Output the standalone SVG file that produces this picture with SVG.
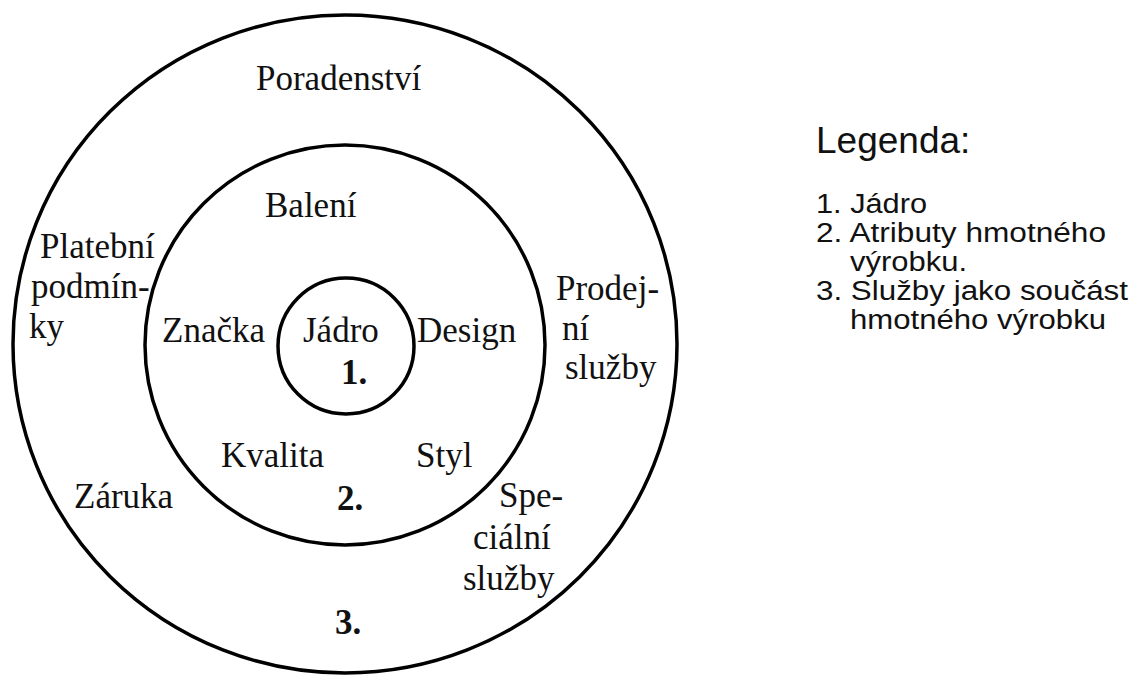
<svg xmlns="http://www.w3.org/2000/svg" width="1140" height="675" viewBox="0 0 1140 675">
<style>
.ring{fill:none;stroke:#000;stroke-width:3.5}
.t{font-family:"Liberation Sans",sans-serif;font-family:"Liberation Serif","Times New Roman",serif;font-size:35px;fill:#111}
.b{font-family:"Liberation Serif","Times New Roman",serif;font-size:35px;font-weight:bold;fill:#111}
.lh{font-family:"Liberation Sans",Arial,sans-serif;font-size:37px;fill:#111}
.li{font-family:"Liberation Sans",Arial,sans-serif;font-size:27px;fill:#111}
</style>
<rect width="1140" height="675" fill="#fff"/>
<g id="ring3">
<ellipse class="ring" cx="345" cy="344" rx="332" ry="329"/>
<text class="t" x="256" y="90">Poradenství</text>
<text class="t" x="40" y="258">Platební</text>
<text class="t" x="31" y="298">podmín-</text>
<text class="t" x="29" y="338">ky</text>
<text class="t" x="556" y="300">Prodej-</text>
<text class="t" x="562" y="340">ní</text>
<text class="t" x="565" y="379">služby</text>
<text class="t" x="74" y="508">Záruka</text>
<text class="t" x="499" y="507">Spe-</text>
<text class="t" x="473" y="549">ciální</text>
<text class="t" x="463" y="590">služby</text>
<text class="b" x="335" y="634">3.</text>
</g>
<g id="ring2">
<circle class="ring" cx="345" cy="345" r="200"/>
<text class="t" x="265" y="217">Balení</text>
<text class="t" x="162" y="342">Značka</text>
<text class="t" x="417" y="342">Design</text>
<text class="t" x="221" y="467">Kvalita</text>
<text class="t" x="416" y="467">Styl</text>
<text class="b" x="337" y="510">2.</text>
</g>
<g id="ring1">
<circle class="ring" cx="346" cy="346" r="68"/>
<text class="t" x="303" y="342">Jádro</text>
<text class="b" x="341" y="384">1.</text>
</g>
<g id="legend">
<text class="lh" x="816" y="153">Legenda:</text>
<text class="li" x="816" y="213" textLength="111" lengthAdjust="spacingAndGlyphs">1. Jádro</text>
<text class="li" x="816" y="242" textLength="290" lengthAdjust="spacingAndGlyphs">2. Atributy hmotného</text>
<text class="li" x="850" y="271" textLength="117" lengthAdjust="spacingAndGlyphs">výrobku.</text>
<text class="li" x="816" y="300" textLength="312" lengthAdjust="spacingAndGlyphs">3. Služby jako součást</text>
<text class="li" x="850" y="329" textLength="256" lengthAdjust="spacingAndGlyphs">hmotného výrobku</text>
</g>
<g id="connectors"></g>
</svg>
